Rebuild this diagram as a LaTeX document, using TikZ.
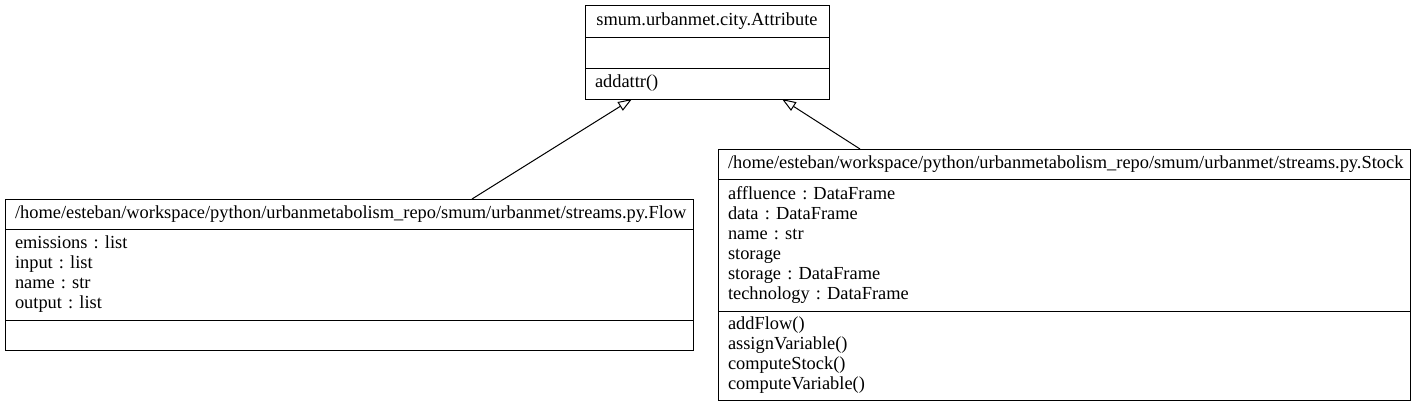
\documentclass[tikz,border=0pt]{standalone}
\usepackage{fontspec}
\setmainfont{Liberation Serif}
\usetikzlibrary{arrows.meta,positioning}

\tikzset{
  compart/.style={draw, line width=1pt, anchor=north west, outer sep=0pt,
    inner xsep=10pt, inner ysep=0pt, align=left,
    font=\fontsize{18.4}{20}\selectfont\frenchspacing},
  classname/.style={compart, align=center},
  inherits/.style={-{Triangle[open,length=14pt,width=10pt]}, line width=1pt},
}

\begin{document}
\begin{tikzpicture}[x=1pt,y=-1pt]
 \useasboundingbox (0,0) rectangle (1415,407);
 % base class
 \node[classname, text width=224pt, minimum height=32pt] (attrTitle) at (585,5) {smum.urbanmet.city.Attribute};
 \node[compart, text width=224pt, minimum height=31pt] (attrAttrs) at (attrTitle.south west) {};
 \node[compart, text width=224pt, minimum height=31pt] (attrOps) at (attrAttrs.south west) {addattr()};
 % Flow
 \node[compart, text width=668pt, minimum height=30pt] (flowTitle) at (5,199) {/home/esteban/workspace/python/urbanmetabolism\_repo/smum/urbanmet/streams.py.Flow};
 \node[compart, text width=668pt, minimum height=91pt] (flowAttrs) at (flowTitle.south west) {emissions : list\\input : list\\name : str\\output : list};
 \node[compart, text width=668pt, minimum height=30pt] (flowOps) at (flowAttrs.south west) {};
 % Stock
 \node[compart, text width=672pt, minimum height=30pt] (stockTitle) at (718,149) {/home/esteban/workspace/python/urbanmetabolism\_repo/smum/urbanmet/streams.py.Stock};
 \node[compart, text width=672pt, minimum height=132pt] (stockAttrs) at (stockTitle.south west) {affluence : DataFrame\\data : DataFrame\\name : str\\storage\\storage : DataFrame\\technology : DataFrame};
 \node[compart, text width=672pt, minimum height=89pt] (stockOps) at (stockAttrs.south west) {addFlow()\\assignVariable()\\computeStock()\\computeVariable()};
 % inheritance
 \draw[inherits] ([xshift=467pt]flowTitle.north west) -- ([xshift=47pt]attrOps.south west);
 \draw[inherits] ([xshift=142pt]stockTitle.north west) -- ([xshift=197pt]attrOps.south west);
\end{tikzpicture}
\end{document}
